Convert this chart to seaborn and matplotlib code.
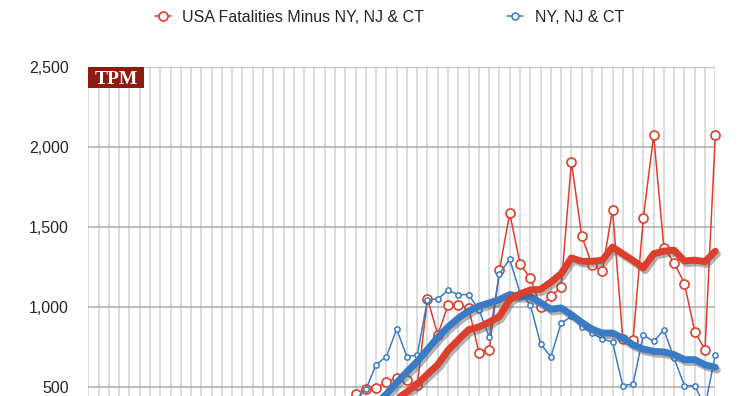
import matplotlib
matplotlib.use("Agg")
import matplotlib.pyplot as plt
import matplotlib.patheffects as pe
from matplotlib.lines import Line2D
from matplotlib.patches import Rectangle
import pandas as pd
import seaborn as sns

# daily deaths, indexed by day number (first visible days start near the bottom)
US_DAILY_START = 25
US_DAILY = [400, 455, 490, 496, 531, 556, 541, 510, 1052, 827, 1010, 1010, 996,
            714, 730, 1229, 1586, 1270, 1180, 1002, 1066, 1122, 1906, 1444,
            1264, 1222, 1608, 802, 794, 1556, 2072, 1369, 1275, 1146, 846, 733,
            2072]
NY_DAILY_START = 26
NY_DAILY = [420, 485, 640, 690, 861, 689, 700, 1045, 1050, 1103, 1077, 1077,
            983, 811, 1208, 1298, 1087, 1014, 770, 688, 899, 941, 875, 837, 800,
            781, 508, 519, 825, 785, 856, 679, 508, 508, 380, 700]

# rolling averages (thick lines)
US_AVG_START = 29
US_AVG = [380, 425, 470, 518, 580, 640, 730, 795, 858, 875, 905, 941, 1046,
          1082, 1106, 1110, 1155, 1208, 1306, 1285, 1285, 1291, 1374, 1332,
          1290, 1244, 1332, 1349, 1354, 1287, 1292, 1283, 1348]
NY_AVG_START = 28
NY_AVG = [400, 455, 528, 595, 660, 735, 810, 875, 930, 975, 1005, 1025, 1046,
          1077, 1066, 1064, 1027, 986, 994, 952, 904, 862, 837, 837, 806, 764,
          737, 723, 719, 702, 671, 671, 639, 623]

N_DAYS = 62
Y_TICKS = [500, 1000, 1500, 2000, 2500]
LABEL_US = "USA Fatalities Minus NY, NJ & CT"
LABEL_NY = "NY, NJ & CT"

RED = "#dc3f2b"
BLUE = "#3b7bc6"


def frame(start, values):
    return pd.DataFrame({"day": range(start, start + len(values)), "deaths": values})


sns.set_style("white")
plt.rcParams["font.family"] = ["Liberation Sans", "DejaVu Sans"]

W, H = 755, 396
fig = plt.figure(figsize=(W / 100, H / 100), dpi=100)
ax = fig.add_axes([88.3 / W, 0, 627 / W, 1 - 66.7 / H])

shadow = [pe.SimpleLineShadow(offset=(1.5, -2.0), shadow_color="#555555", alpha=0.45),
          pe.Normal()]

sns.lineplot(data=frame(US_DAILY_START, US_DAILY), x="day", y="deaths", ax=ax,
             color=RED, lw=1.1, marker="o", ms=6.5, mfc="white", mec=RED,
             mew=1.2, clip_on=False, zorder=3)
sns.lineplot(data=frame(NY_DAILY_START, NY_DAILY), x="day", y="deaths", ax=ax,
             color=BLUE, lw=1.1, marker="o", ms=3.8, mfc="white", mec=BLUE,
             mew=1.1, clip_on=False, zorder=3)
sns.lineplot(data=frame(NY_AVG_START, NY_AVG), x="day", y="deaths", ax=ax,
             color=BLUE, lw=5, clip_on=False, zorder=4, path_effects=shadow)
sns.lineplot(data=frame(US_AVG_START, US_AVG), x="day", y="deaths", ax=ax,
             color=RED, lw=5, clip_on=False, zorder=5, path_effects=shadow)

ax.set_xlim(0, N_DAYS - 1)
ax.set_ylim(444, 2500)
ax.set_xticks(range(N_DAYS))
ax.set_xticklabels([])
ax.set_yticks(Y_TICKS)
ax.set_yticklabels([f"{v:,}" for v in Y_TICKS], fontsize=11.5)
ax.tick_params(length=0, pad=14)
ax.set_xlabel("")
ax.set_ylabel("")
ax.grid(axis="x", color="#dadada", lw=1.3, zorder=0)
ax.grid(axis="y", color="#aaaaaa", lw=1.1, zorder=0)
ax.set_axisbelow(True)
for s in ax.spines.values():
    s.set_visible(False)

# TPM badge
bx, by, bw, bh = 88.3 / W, 1 - 88 / H, 56 / W, 21 / H
fig.add_artist(Rectangle((bx, by), bw, bh, transform=fig.transFigure,
                         fc="#8e1b10", ec="none", zorder=6))
fig.text(bx + bw / 2, by + bh / 2, "TPM", ha="center", va="center_baseline",
         color="white", fontsize=14, fontweight="bold",
         family=["Liberation Serif", "DejaVu Serif"], zorder=7)

handles = [
    Line2D([], [], color=RED, lw=1.1, marker="o", ms=6.5, mfc="white", mec=RED, mew=1.2),
    Line2D([], [], color=BLUE, lw=1.1, marker="o", ms=5, mfc="white", mec=BLUE, mew=1.1),
]
fig.legend(handles, [LABEL_US, LABEL_NY], loc="center", bbox_to_anchor=(0.516, 1 - 17 / H),
           ncol=2, frameon=False, fontsize=11.5, handlelength=1.0, handletextpad=0.75,
           columnspacing=5.2)

fig.savefig("out.png", dpi=100)
